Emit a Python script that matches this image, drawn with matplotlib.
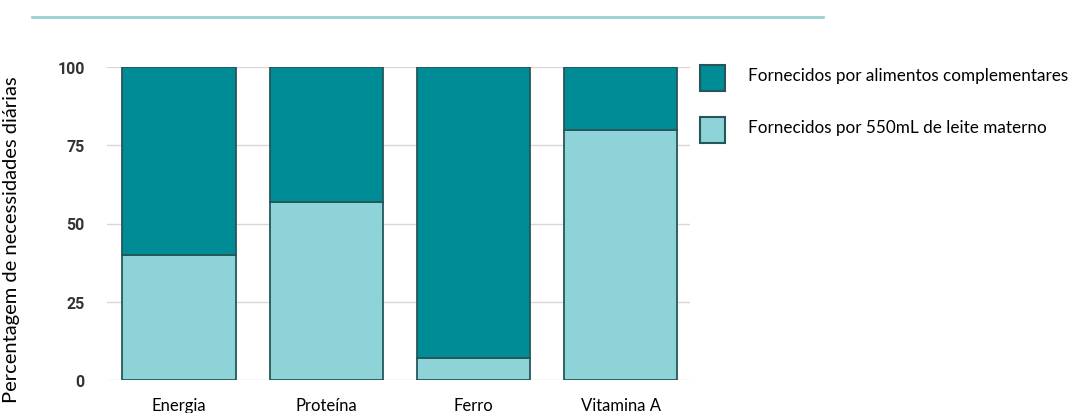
import matplotlib
matplotlib.use("Agg")
import matplotlib.pyplot as plt
from matplotlib.patches import Rectangle
from matplotlib.lines import Line2D

categories = ["Energia", "Proteína", "Ferro", "Vitamina A"]
leite_materno = [40, 57, 7, 80]
complementares = [60, 43, 93, 20]
yticks = [0, 25, 50, 75, 100]
legend_labels = ["Fornecidos por alimentos complementares", "Fornecidos por 550mL de leite materno"]

dark = "#008c96"
light = "#8dd3d8"
edge = "#24575a"
fam = ["Lato", "DejaVu Sans"]

W, H = 1077, 414
fig = plt.figure(figsize=(W / 100, H / 100), dpi=100)
ax = fig.add_axes([107 / W, 1 - 381 / H, (690 - 107) / W, (381 - 68) / H])

x = range(len(categories))
ax.bar(x, leite_materno, width=0.77, color=light, edgecolor=edge, linewidth=1.3, zorder=3)
ax.bar(x, complementares, bottom=leite_materno, width=0.77, color=dark, edgecolor=edge, linewidth=1.3, zorder=3)

ax.set_xlim(-0.49, 3.47)
ax.set_ylim(0, 100)
ax.set_yticks(yticks)
ax.set_yticklabels([str(v) for v in yticks], fontsize=11.5, color="#333333",
                   family=["Liberation Sans Narrow", "Roboto"], fontweight="bold")
ax.set_xticks(list(x))
ax.set_xticklabels(categories, fontsize=12, family=fam)
ax.tick_params(axis="both", length=0)
ax.tick_params(axis="y", pad=16)
ax.tick_params(axis="x", pad=12)
for s in ax.spines.values():
    s.set_visible(False)
ax.yaxis.grid(True, color="#ddd3d3", linewidth=1.0, zorder=0)
ax.set_axisbelow(True)

fig.text(12 / W, 1 - 240 / H, "Percentagem de necessidades diárias", rotation=90,
         ha="center", va="center", fontsize=14.5, family=fam)

# top decorative line
fig.add_artist(Line2D([32 / W, 823 / W], [1 - 18 / H, 1 - 18 / H], color="#99cfcf", linewidth=2))

# legend
for i, (lab, col) in enumerate(zip(legend_labels, [dark, light])):
    y0 = [66, 118][i]
    fig.add_artist(Rectangle((700 / W, 1 - (y0 + 26) / H), 25 / W, 26 / H,
                             facecolor=col, edgecolor=edge, linewidth=1.5,
                             transform=fig.transFigure))
    fig.text(748 / W, 1 - (y0 + 10) / H, lab, ha="left", va="center",
             fontsize=12.3, family=fam)

fig.savefig("out.png", dpi=100)
